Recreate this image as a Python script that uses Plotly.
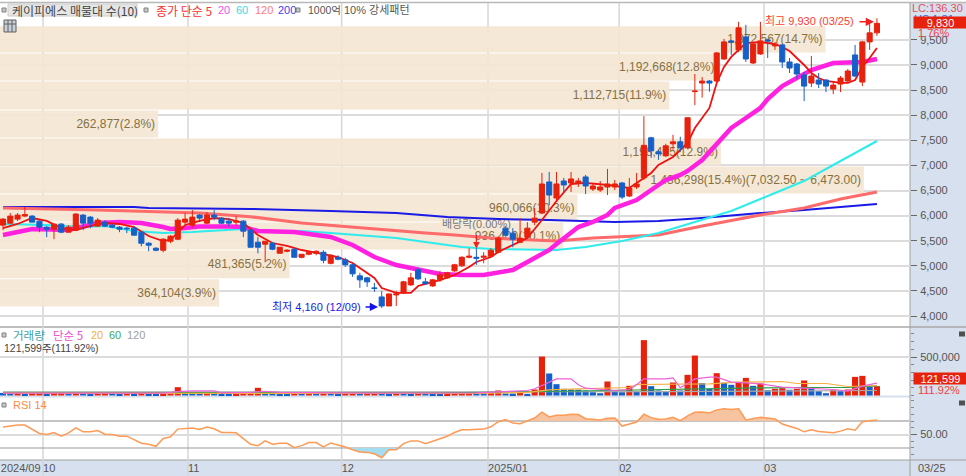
import plotly.graph_objects as go

# ---------- data ----------
opens = [5810,5850,5930,5990,5990,5890,5770,5730,5830,5670,5710,6010,5970,5790,5870,5810,5770,5750,5750,5670,5450,5350,5310,5490,5530,5870,5810,6010,5850,6010,
         5950,5890,5870,5890,5710,5470,5430,5450,5250,5290,5330,5170,5230,5250,5270,5050,5170,5120,5020,4800,4760,4560,4380,4200,4420,4460,4620,4920,4680,4600,
         4720,4760,4900,5000,5170,5170,5170,5190,5270,5750,5650,5470,5570,5870,6050,6670,6350,6690,6650,6650,6770,6530,6510,6570,6570,6650,6390,6570,6750,7550,
         7270,7190,7430,7470,7350,8470,8640,8680,8680,9120,9480,9300,9560,9040,9220,9500,9380,9400,9060,9020,8800,8640,8700,8700,8520,8620,8680,9200,8660,9460,9640]
closes = [5930,5990,6010,6020,5870,5770,5730,5830,5670,5770,6030,5850,5850,5910,5790,5770,5730,5740,5610,5450,5410,5310,5530,5590,5910,5930,5970,5950,6010,5970,
          5850,5850,5890,5690,5370,5370,5490,5330,5370,5310,5170,5230,5270,5290,5110,5210,5130,5020,4840,4720,4680,4550,4200,4440,4440,4680,4760,4740,4640,4720,
          4820,4860,5020,5170,5190,5150,5190,5310,5550,5610,5530,5550,5750,5950,6630,6410,6630,6610,6730,6690,6590,6590,6570,6630,6630,6370,6550,6630,7400,7290,
          7230,7390,7470,7350,7950,8480,8680,8640,9240,9460,9460,9740,9120,9420,9480,9480,9420,9060,8940,8820,8580,8780,8620,8580,8600,8740,8880,8780,9460,9640,9830]
highs = [5950,6050,6050,6170,6010,5910,5790,5830,5850,5810,6050,6030,5990,5950,5910,5830,5790,5780,5790,5690,5470,5370,5550,5610,5950,6050,6110,6030,6070,6110,
         5970,5950,5990,5910,5730,5570,5490,5470,5370,5330,5350,5230,5290,5310,5310,5230,5210,5160,5040,4860,4780,4660,4500,4440,4500,4700,4860,4960,4760,4740,
         4900,4880,5040,5190,5350,5350,5270,5350,5590,5790,5750,5950,5870,6150,6850,6870,6870,6750,6870,6750,6810,6630,6690,6930,6710,6670,6750,6850,7980,7570,
         7310,7430,7610,7570,7950,8820,8760,8700,9260,9520,9500,9860,9800,9440,9860,9520,9460,9420,9140,9040,8860,9180,8840,8720,8660,8780,8920,9400,9480,9840,9930]
lows = [5710,5830,5890,5970,5870,5670,5570,5530,5650,5670,5690,5710,5750,5790,5770,5750,5670,5650,5610,5390,5290,5290,5270,5450,5510,5830,5770,5870,5830,5910,
        5830,5790,5810,5570,5370,5250,5070,5310,5250,5270,5170,5150,5210,5210,5050,5030,5110,4980,4780,4560,4580,4480,4160,4200,4200,4440,4600,4720,4620,4580,
        4680,4740,4880,4980,5150,5020,5050,5170,5250,5590,5370,5450,5550,5810,6030,6210,6310,6470,6470,6570,6430,6490,6470,6410,6510,6330,6370,6530,6710,7150,
        7110,7170,7310,7270,7330,8200,8350,8470,8660,9100,9200,9260,9060,9020,9200,9140,9300,8940,8840,8720,8280,8560,8540,8460,8420,8460,8640,8760,8580,9300,9580]

ma5_idx = [0,2,4,6,8,10,12,14,16,18,20,22,23,25,27,29,31,33,35,37,39,41,44,46,48,51,52,54,56,57,58,60,62,64,65,67,68,70,72,74,76,78,80,83,86,87,89,90,92,93,94,95,97,98,99,100,101,102,104,106,107,108,110,111,112,113,115,116,117,118,119,120]
ma5_val = [5753,5833,5952,5893,5753,5713,5793,5853,5833,5773,5594,5494,5514,5813,5893,5952,5932,5853,5614,5454,5395,5315,5235,5175,5056,4757,4558,4459,4459,4598,4638,4717,4817,4976,5076,5175,5275,5415,5554,5912,6291,6630,6650,6610,6550,6650,6849,7008,7168,7307,7446,7745,8144,8642,8960,9160,9299,9438,9458,9418,9359,9279,9000,8841,8741,8682,8642,8642,8701,8960,9140,9339]
ma20_idx = [0,2,4,9,11,13,16,19,22,23,25,27,31,33,35,38,40,43,45,48,51,54,57,60,63,66,70,72,75,76,78,79,81,83,84,87,89,91,93,94,96,97,98,100,102,104,105,107,109,111,114,116,118,120]
ma20_val = [5614,5673,5733,5713,5773,5853,5873,5853,5773,5733,5753,5783,5783,5773,5693,5673,5673,5614,5574,5415,5175,5016,4917,4837,4817,4817,4917,5076,5315,5435,5654,5773,5873,6013,6152,6311,6510,6709,6810,6889,7108,7267,7446,7745,7944,8144,8323,8582,8741,8900,9040,9060,9060,9120]
ma60_idx = [0,6,11,14,18,22,26,30,33,36,41,45,49,54,58,63,67,70,76,80,85,90,100,104,110,114,117,120]
ma60_val = [5833,5813,5773,5793,5693,5654,5673,5713,5733,5693,5693,5654,5614,5554,5474,5375,5335,5325,5315,5375,5494,5654,6092,6331,6689,7008,7247,7486]
ma120_idx = [0,13,27,34,41,46,49,53,58,62,67,71,76,81,85,90,96,104,110,115,120]
ma120_val = [6152,6112,6052,5978,5853,5793,5753,5713,5654,5614,5554,5524,5494,5554,5584,5614,5793,6012,6152,6331,6470]
ma200_idx = [0,18,20,34,45,54,61,68,75,84,90,96,104,110,120]
ma200_val = [6171,6171,6152,6132,6092,6052,5972,5933,5912,5873,5893,5952,6052,6112,6231]

band_top = [9780,9240,8680,8105,7545,6990,6430,5875,5315,4740]
band_bottom = [9240,8680,8105,7545,6990,6430,5875,5315,4740,4180]
band_volume = [1372567,1192668,1112715,262877,1198495,1436298,960066,936400,481365,364104]
band_labels = ["1,372,567(14.7%)","1,192,668(12.8%)","1,112,715(11.9%)","262,877(2.8%)","1,198,495(12.9%)",
               "1,436,298(15.4%)(7,032.50 ~ 6,473.00)","960,066(10.3%)","936,400(10.1%)","481,365(5.2%)","364,104(3.9%)"]

volume = [34000,28000,35000,14000,30000,33000,25000,31000,34000,26000,36000,28000,14000,26000,32000,26000,12000,28000,24000,33000,25000,14000,24000,40000,108000,50000,42000,32000,38000,28000,
          25000,12000,22000,34000,38000,100000,36000,30000,13000,12000,30000,26000,34000,27000,36000,28000,24000,32000,35000,30000,36000,38000,30000,24000,32000,27000,22000,30000,26000,22000,
          12000,22000,34000,42000,44000,36000,30000,35000,65000,26000,25000,52000,22000,78000,506000,286000,147000,87000,78000,76000,65000,43000,30000,182000,65000,43000,126000,56000,719000,121000,
          65000,56000,169000,65000,268000,519000,160000,87000,290000,165000,139000,165000,229000,126000,156000,69000,87000,95000,74000,87000,195000,95000,56000,30000,74000,56000,78000,242000,255000,118000,121599]
vol_ma5_idx = [0,22,24,26,29,30,34,36,38,50,65,72,73,75,76,78,79,80,84,86,87,88,91,92,93,95,97,98,100,102,104,107,109,111,114,116,118,120]
vol_ma5_val = [30000,30000,50000,60000,60000,35000,40000,55000,40000,30000,33000,65000,87000,173000,216000,216000,139000,95000,65000,78000,139000,216000,216000,229000,100000,216000,238000,238000,173000,165000,152000,108000,100000,95000,78000,56000,121000,160000]
vol_ma20_idx = [0,65,72,75,79,84,86,87,93,97,101,107,109,113,116,120]
vol_ma20_val = [32000,26000,40000,74000,87000,95000,104000,143000,143000,152000,173000,182000,156000,156000,117000,130000]
vol_ma60_idx = [0,60,75,88,97,104,111,116,120]
vol_ma60_val = [40000,34000,52000,74000,95000,100000,104000,104000,125000]
vol_ma120_idx = [0,60,90,120]
vol_ma120_val = [45000,42000,50000,65000]

rsi = [61,62.5,64,64,57.5,51.5,50,53,47.5,52.5,60,54,54,56,50.5,50,47.5,47.5,42.5,37,
       35.5,32.5,44,46.5,58,58.5,59.5,57.5,61,58.5,53,53,52.5,44,35.5,33.5,40.5,35.5,37,37,
       30.5,33.5,38,38,31.5,37.5,35,31.5,27.5,24,23.5,21.5,15.5,27.5,27.5,36.5,40.5,40.5,36.5,40.5,
       44,47.5,53,57,57,57,
       58,61.5,69,72,67,66,70.5,74.5,83,76,78.5,78.5,80,79.5,73.5,73,71.5,74,74.5,62.5,65.5,68.5,80,75,72.5,73,75.5,70.5,77.5,83,83.5,82,86.5,88,87,88,
       71.5,73.5,75.5,74.5,73,65.5,62,59,54,57,54.5,53,52.5,55,58.5,56.5,69,70.5,71.5]

month_pos = [5.5,25.4,46.5,66.6,84.6,104.5]
tick_pos = [-0.3,5.5,25.4,46.5,66.6,84.6,104.5]
tick_text = ["2024/09","10","11","12","2025/01","02","03"]
price_ticks = [4000,4500,5000,5500,6000,6500,7000,7500,8000,8500,9000,9500]
price_text = ["4,000","4,500","5,000","5,500","6,000","6,500","7,000","7,500","8,000","8,500","9,000","9,500"]

# ---------- style ----------
W, H = 966, 476
RED, BLUE = "#e8210c", "#1560c8"
PANEL = "#d6e0ee"
GRID = "#dcdcdc"
KR = "Noto Sans CJK KR"
MIX = "Liberation Sans, Noto Sans CJK KR"
NUM = "Liberation Sans"
def px(x): return x / W
def py(y): return 1 - y / H
IDX_RANGE = [-0.412, 124.54]
DOM = [0, 910 / W]

n = len(closes)
idx = list(range(n))
fig = go.Figure()

# volume-profile bands (bottom layer)
fig.add_trace(go.Bar(
    orientation="h", x=band_volume,
    y=[(a + b) / 2 for a, b in zip(band_top, band_bottom)],
    width=[a - b - 20 for a, b in zip(band_top, band_bottom)],
    marker=dict(color="rgba(244,230,212,0.92)", line=dict(width=0)),
    text=band_labels, textposition="inside", insidetextanchor="end", textangle=0,
    constraintext="none", textfont=dict(family="Liberation Sans", size=12, color="#85703f"),
    xaxis="x", yaxis="y", hoverinfo="skip"))

# moving averages
for xs, ys, col, w in [(ma200_idx, ma200_val, "#1a1ae6", 2), (ma120_idx, ma120_val, "#ff6a6a", 3),
                       (ma60_idx, ma60_val, "#2fecec", 2), (ma20_idx, ma20_val, "#ff20e0", 4.5),
                       (ma5_idx, ma5_val, "#f01010", 1.8)]:
    fig.add_trace(go.Scatter(x=xs, y=ys, mode="lines", line=dict(color=col, width=w),
                             xaxis="x2", yaxis="y", hoverinfo="skip"))

# candles
fig.add_trace(go.Candlestick(
    x=idx, open=opens, high=highs, low=lows, close=closes,
    increasing=dict(line=dict(color=RED, width=1), fillcolor=RED),
    decreasing=dict(line=dict(color=BLUE, width=1), fillcolor=BLUE),
    whiskerwidth=0, xaxis="x5", yaxis="y", hoverinfo="skip"))

# volume
vol_colors = [BLUE] + [RED if volume[i] > volume[i - 1] else BLUE for i in range(1, n)]
fig.add_trace(go.Bar(x=idx, y=volume, width=0.84, marker=dict(color=vol_colors, line=dict(width=0)),
                     xaxis="x3", yaxis="y2", hoverinfo="skip"))
for xs, ys, col in [(vol_ma120_idx, vol_ma120_val, "#aaaaaa"), (vol_ma60_idx, vol_ma60_val, "#2e9e4e"),
                    (vol_ma20_idx, vol_ma20_val, "#f5b040"), (vol_ma5_idx, vol_ma5_val, "#ee60d8")]:
    fig.add_trace(go.Scatter(x=xs, y=ys, mode="lines", line=dict(color=col, width=1.2),
                             xaxis="x3", yaxis="y2", hoverinfo="skip"))

# RSI
fig.add_trace(go.Scatter(x=idx, y=[70] * n, mode="lines", line=dict(width=0), xaxis="x4", yaxis="y3", hoverinfo="skip"))
fig.add_trace(go.Scatter(x=idx, y=[max(v, 70) for v in rsi], mode="lines", line=dict(width=0), fill="tonexty",
                         fillcolor="#f6c4a0", xaxis="x4", yaxis="y3", hoverinfo="skip"))
fig.add_trace(go.Scatter(x=idx, y=[30] * n, mode="lines", line=dict(width=0), xaxis="x4", yaxis="y3", hoverinfo="skip"))
fig.add_trace(go.Scatter(x=idx, y=[min(v, 30) for v in rsi], mode="lines", line=dict(width=0), fill="tonexty",
                         fillcolor="#a6dcf0", xaxis="x4", yaxis="y3", hoverinfo="skip"))
fig.add_trace(go.Scatter(x=idx, y=rsi, mode="lines", line=dict(color="#ff9a55", width=1.5),
                         xaxis="x4", yaxis="y3", hoverinfo="skip"))

# ---------- frame shapes ----------
def rect(x0, y0, x1, y1, fill, line=None, layer="below", lw=1):
    return dict(type="rect", xref="paper", yref="paper", x0=px(x0), x1=px(x1), y0=py(y0), y1=py(y1),
                fillcolor=fill, line=dict(color=line or fill, width=lw if line else 0), layer=layer)
def hline(y, x0, x1, col, w=1, layer="below"):
    return dict(type="line", xref="paper", yref="paper", x0=px(x0), x1=px(x1), y0=py(y), y1=py(y),
                line=dict(color=col, width=w), layer=layer)

shapes = [
    rect(910, 3, 966, 476, PANEL),
    rect(0, 460, 910, 476, PANEL),
    hline(2.5, 0, 966, "#b8b8b8", 1.5),
    hline(327, 0, 966, "#a8a8a8", 1.5),
    rect(0, 395.5, 910, 397.5, PANEL),
    hline(460, 0, 966, "#a0a0a0", 1),
    dict(type="line", xref="paper", yref="paper", x0=px(910), x1=px(910), y0=0, y1=py(3), line=dict(color="#a0a0a0", width=1), layer="below"),
]
for m in month_pos:
    shapes.append(dict(type="line", xref="x2", yref="paper", x0=m, x1=m, y0=0, y1=py(3),
                       line=dict(color="#d6d6d6", width=1.5), layer="below"))
# RSI reference levels
for lev, col, w in [(70, "#c4c4c4", 2), (30, "#9a9a9a", 1.2)]:
    shapes.append(dict(type="line", xref="x4", yref="y3", x0=IDX_RANGE[0], x1=IDX_RANGE[1], y0=lev, y1=lev,
                       line=dict(color=col, width=w), layer="below"))
# header bullets and icons
for bx, by in [(4, 10), (146, 10), (298, 10), (4, 335), (4, 405)]:
    shapes.append(rect(bx - 2, by - 2, bx + 2, by + 2, "#c8c8c8", "#808080", "above"))
shapes.append(rect(8, 4, 137, 16, "#e6e6e6", "#cccccc", "below"))
shapes.append(rect(4, 20, 16, 32, "#c8d0d8", "#606060", "above"))
for gx in (8, 12):
    shapes.append(dict(type="line", xref="paper", yref="paper", x0=px(gx), x1=px(gx), y0=py(20), y1=py(32),
                       line=dict(color="#606060", width=1), layer="above"))
shapes.append(hline(24, 4, 16, "#606060", 1, "above"))
for iy in (334, 403):
    shapes.append(rect(959, iy - 2.5, 965, iy + 2.5, "#505050", None, "above"))

# ---------- text ----------
def label(x, y, text, color, size=12, anchor="left", family=KR, **kw):
    return dict(xref="paper", yref="paper", x=px(x), y=py(y), text=text, showarrow=False, xanchor=anchor,
                yanchor="middle", font=dict(family=family, size=size, color=color), borderpad=0, **kw)

ann = [
    label(11, 10, "케이피에스 매물대 수(10)", "#444444"),
    label(155, 10, "종가 단순 5", "#ff3030"),
    label(217, 10, "20", "#f050f0", 11, family=NUM),
    label(235, 10, "60", "#30e0e8", 11, family=NUM),
    label(254, 10, "120", "#ff7a7a", 11, family=NUM),
    label(277, 10, "200", "#4040f0", 11, family=NUM),
    label(307, 10, "1000억", "#555555", 10.5, family=MIX),
    label(343, 10, "10% 강세패턴", "#555555", 11, family=MIX),
    label(12, 335, "거래량", "#3fa0a8", 11.5),
    label(52, 335, "단순 5", "#ee50d0", 11.5),
    label(90, 335, "20", "#f5b040", 11, family=NUM),
    label(108, 335, "60", "#40a860", 11, family=NUM),
    label(126, 335, "120", "#a0a0a0", 11, family=NUM),
    label(3, 348, "121,599주(111.92%)", "#444444", 10.5, family=MIX),
    label(12, 405, "RSI 14", "#ff8a40", 11, family=NUM),
    label(911, 8, "LC:136.30", "#e85050", 11, family=NUM),
    label(913, 19, "HS:1.81", "#3060e0", 11, family=NUM),
    label(913, 22, "9,830", "#ffffff", 11, family=NUM, bgcolor=RED, width=53, height=11, align="center"),
    label(917, 33, "1.76%", "#f04040", 11, family=NUM),
    label(913, 378.5, "121,599", "#ffffff", 11, family=NUM, bgcolor=RED, width=53, height=11, align="center"),
    label(917, 390, "111.92%", "#f04040", 11, family=NUM),
    label(917, 468, "03/25", "#555555", 11, family=NUM),
    label(855, 21, "최고 9,930 (03/25)", "#ff3b30", 11, anchor="right", family=MIX),
    label(271, 307, "최저 4,160 (12/09)", "#1a1ae6", 11, family=MIX),
    label(441, 224, "배당락(0.00%)", "#777777", 11, family=MIX),
    # arrows tied to the bars they point at
    dict(xref="x2", yref="y", x=119.6, y=9860, ax=-16, ay=0, text="", showarrow=True, arrowhead=2, arrowsize=1.1, arrowwidth=1.5, arrowcolor="#f02020"),
    dict(xref="x2", yref="y", x=51.5, y=4180, ax=-14, ay=0, text="", showarrow=True, arrowhead=2, arrowsize=1.1, arrowwidth=1.5, arrowcolor="#1010ee"),
    dict(xref="x2", yref="y", x=65, y=5345, ax=0, ay=-15, text="", showarrow=True, arrowhead=2, arrowsize=1.1, arrowwidth=1.2, arrowcolor="#f02020"),
]

# ---------- axes ----------
hidden = dict(showgrid=False, zeroline=False, showticklabels=False, showline=False, ticks="")
tick_font = dict(family=NUM, size=11, color="#555555")
right_axis = dict(side="right", zeroline=False, showline=False, ticks="outside", ticklen=6, tickcolor="#666666",
                  tickfont=tick_font, gridcolor=GRID, gridwidth=1.5, ticklabelstandoff=1)

fig.update_layout(
    width=W, height=H, autosize=False, margin=dict(l=0, r=0, t=0, b=0),
    paper_bgcolor="white", plot_bgcolor="rgba(0,0,0,0)", showlegend=False, boxgap=0.3, boxgroupgap=0,
    shapes=shapes, annotations=ann,
    xaxis=dict(domain=DOM, range=[0, 1512900], anchor="y", **hidden),
    xaxis2=dict(domain=DOM, range=IDX_RANGE, anchor="y", overlaying="x", rangeslider=dict(visible=False), **hidden),
    xaxis5=dict(domain=DOM, range=IDX_RANGE, anchor="y", overlaying="x", rangeslider=dict(visible=False), **hidden),
    xaxis3=dict(domain=DOM, range=IDX_RANGE, anchor="y2", **hidden),
    xaxis4=dict(domain=DOM, range=IDX_RANGE, anchor="y3", showgrid=False, zeroline=False, showline=False,
                ticks="", tickmode="array", tickvals=tick_pos, ticktext=tick_text,
                ticklabelposition="outside right", tickfont=tick_font, ticklabeloverflow="allow"),
    yaxis=dict(domain=[py(325), py(17)], range=[3821, 9956], anchor="x", tickmode="array",
               tickvals=price_ticks, ticktext=price_text, **right_axis),
    yaxis2=dict(domain=[py(396), py(327)], range=[-6500, 889600], anchor="x3", tickmode="array",
                tickvals=[500000], ticktext=["500,000"], minor=dict(dtick=100000, ticks="outside", ticklen=3, tickcolor="#888888", showgrid=False),
                **right_axis),
    yaxis3=dict(domain=[py(460), py(397)], range=[12.2, 105.6], anchor="x4", tickmode="array",
                tickvals=[50], ticktext=["50.00"], minor=dict(dtick=10, ticks="outside", ticklen=3, tickcolor="#888888", showgrid=False),
                **right_axis),
)

fig.write_html("out.html", config={"displayModeBar": False},
               post_script="document.body.style.margin='0';document.body.style.overflow='hidden';")
